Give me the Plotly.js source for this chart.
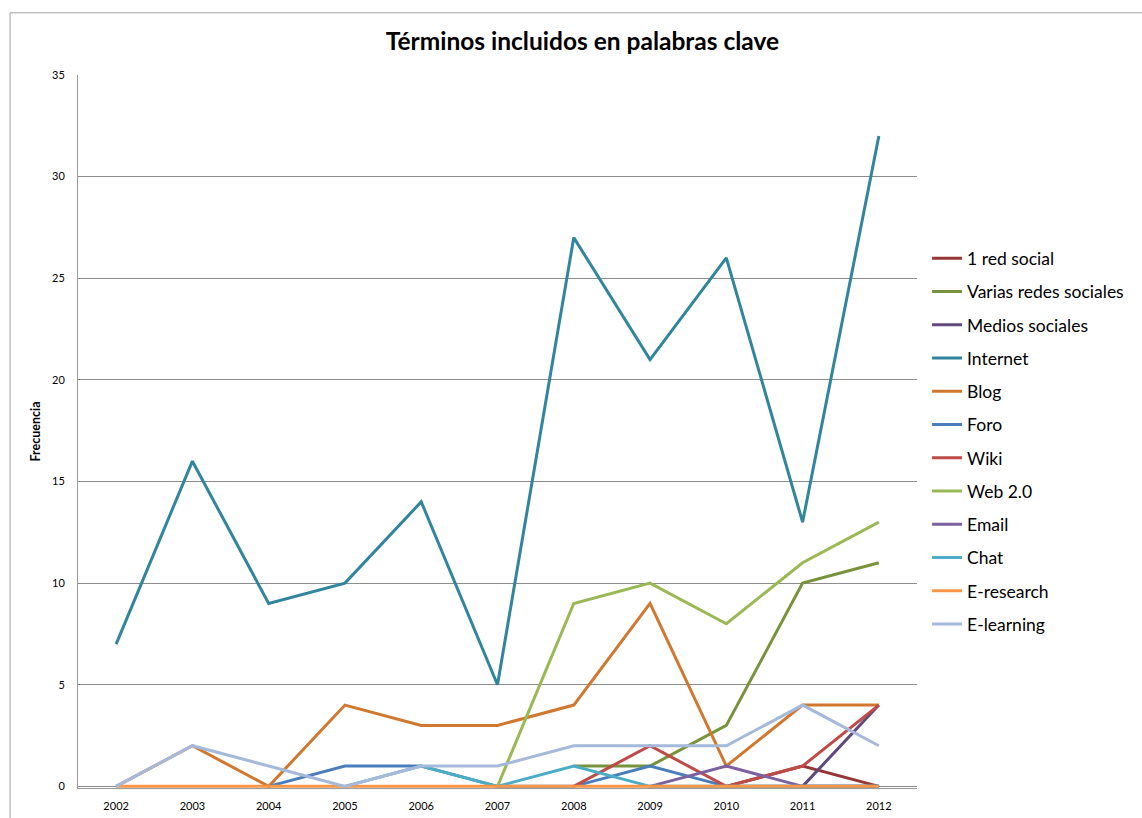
<!DOCTYPE html>
<html>
<head>
<meta charset="utf-8">
<script src="https://cdn.plot.ly/plotly-3.0.1.min.js"></script>
<style>
  html, body { margin: 0; padding: 0; background: #fff; }
  #chart { width: 1142px; height: 818px; }
</style>
</head>
<body>
<div id="chart"></div>
<script>
// years on the x axis
const years = ['2002', '2003', '2004', '2005', '2006', '2007', '2008', '2009', '2010', '2011', '2012'];

// series values (null = no data that year)
const redSocial      = [null, null, null, null, null, null, null, null, 0, 1, 0];
const variasRedes    = [null, null, null, null, null, null, 1, 1, 3, 10, 11];
const mediosSociales = [null, null, null, null, null, null, null, null, null, 0, 4];
const internet       = [7, 16, 9, 10, 14, 5, 27, 21, 26, 13, 32];
const blog           = [0, 2, 0, 4, 3, 3, 4, 9, 1, 4, 4];
const foro           = [null, null, 0, 1, 1, 0, 0, 1, 0, 0, 0];
const wiki           = [null, null, null, null, null, null, 0, 2, 0, 1, 4];
const web20          = [null, null, null, null, null, 0, 9, 10, 8, 11, 13];
const email          = [null, null, null, null, null, null, null, 0, 1, 0, 0];
const chat           = [null, null, null, 0, 1, 0, 1, 0, 0, 0, 0];
const eResearch      = [0, 0, 0, 0, 0, 0, 0, 0, 0, 0, 0];
const eLearning      = [0, 2, 1, 0, 1, 1, 2, 2, 2, 4, 2];

const series = [
  { name: '1 red social', y: redSocial, color: '#953735' },
  { name: 'Varias redes sociales', y: variasRedes, color: '#77933C' },
  { name: 'Medios sociales', y: mediosSociales, color: '#604A7B' },
  { name: 'Internet', y: internet, color: '#31859C' },
  { name: 'Blog', y: blog, color: '#D0782F' },
  { name: 'Foro', y: foro, color: '#4A7EBB' },
  { name: 'Wiki', y: wiki, color: '#BE4B48' },
  { name: 'Web 2.0', y: web20, color: '#98B954' },
  { name: 'Email', y: email, color: '#7D60A0' },
  { name: 'Chat', y: chat, color: '#4BACC6' },
  { name: 'E-research', y: eResearch, color: '#F79646' },
  { name: 'E-learning', y: eLearning, color: '#A5B9DA' },
];

const font = 'Lato, "Open Sans", sans-serif';

const data = series.map((s, i) => ({
  type: 'scatter',
  mode: 'lines',
  x: years,
  y: s.y,
  name: s.name,
  legendgroup: 'g' + i,
  line: { color: s.color, width: 3 },
  connectgaps: false,
  hoverinfo: 'x+y+name',
}));

const layout = {
  width: 1142,
  height: 818,
  margin: { l: 78, r: 225, t: 75, b: 30 },
  paper_bgcolor: '#fff',
  plot_bgcolor: '#fff',
  font: { family: font, color: '#000' },
  title: {
    text: '<b>Términos incluidos en palabras clave</b>',
    font: { family: font, size: 24.5, color: '#000' },
    x: 0.51,
    xanchor: 'center',
    xref: 'container',
    y: 0.949,
    yanchor: 'middle',
    yref: 'container',
  },
  xaxis: {
    type: 'category',
    range: [-0.5, 10.5],
    showgrid: false,
    showline: true,
    linecolor: '#9a9a9a',
    linewidth: 1,
    layer: 'below traces',
    ticks: '',
    tickfont: { size: 11, color: '#000' },
    ticklabelstandoff: 8,
    zeroline: false,
    fixedrange: true,
  },
  yaxis: {
    range: [-0.08, 35],
    tick0: 0,
    dtick: 5,
    showgrid: true,
    gridcolor: '#8c8c8c',
    gridwidth: 1,
    showline: true,
    linecolor: '#9a9a9a',
    linewidth: 1,
    layer: 'below traces',
    ticks: '',
    tickfont: { size: 11, color: '#000' },
    ticklabelstandoff: 10,
    zeroline: false,
    title: {
      text: '<b>Frecuencia</b>',
      font: { size: 12.5, color: '#000' },
      standoff: 8,
    },
    fixedrange: true,
  },
  legend: {
    x: 1.012,
    xanchor: 'left',
    y: 0.486,
    yanchor: 'middle',
    font: { family: font, size: 17.5, color: '#000' },
    tracegroupgap: 7.5,
    bgcolor: 'rgba(0,0,0,0)',
  },
  shapes: [{
    type: 'rect',
    xref: 'paper', yref: 'paper',
    x0: -0.081, x1: 1.5, y0: -0.2, y1: 1.0872,
    line: { color: '#a0a0a0', width: 1 },
    fillcolor: 'rgba(0,0,0,0)',
    layer: 'below',
  }],
  showlegend: true,
};

Plotly.newPlot('chart', data, layout, { displayModeBar: false, responsive: false });
</script>
</body>
</html>
